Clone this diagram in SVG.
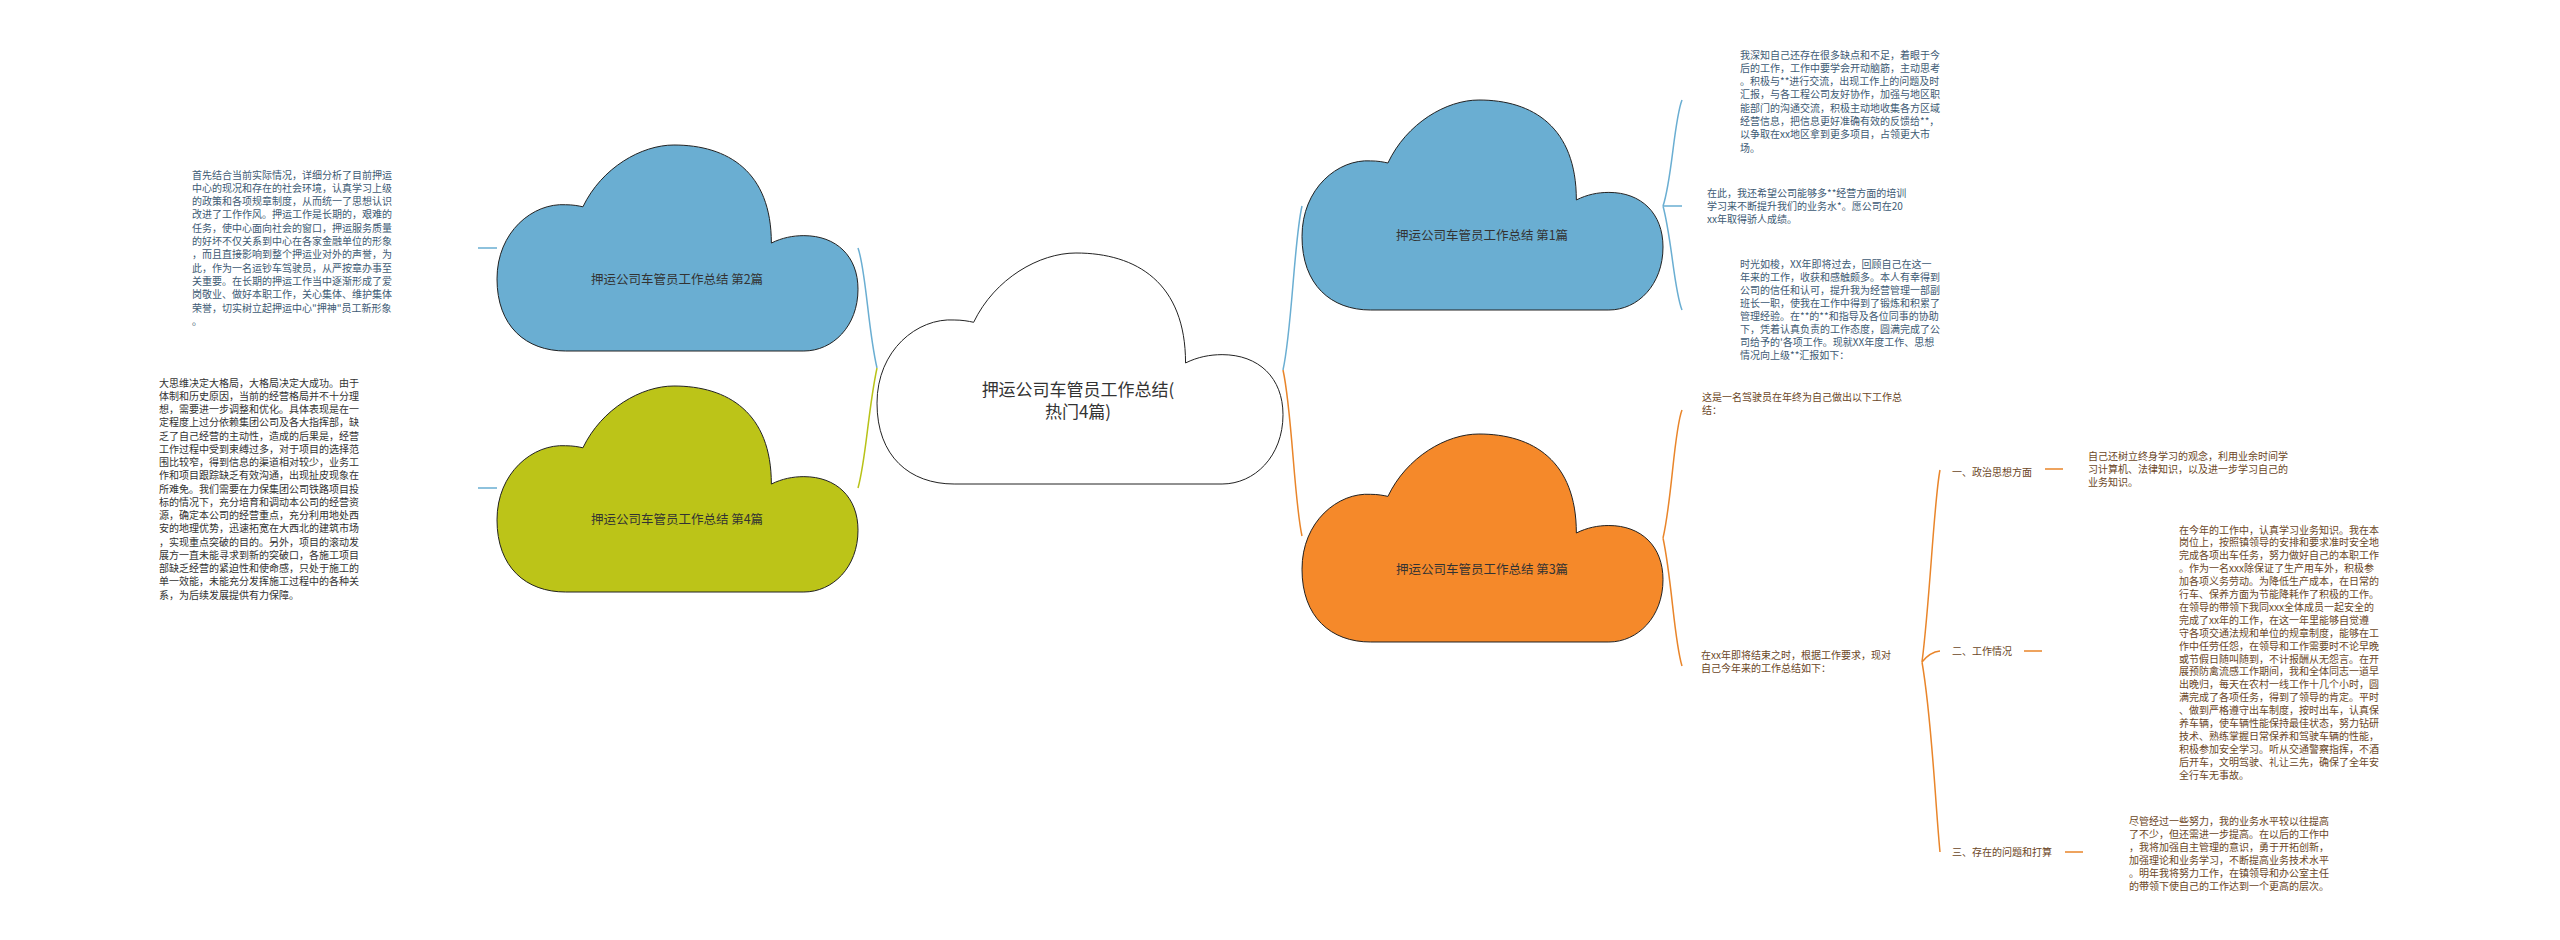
<svg xmlns="http://www.w3.org/2000/svg" width="2560" height="940" viewBox="0 0 2560 940">
<style>
.t{font-family:"Noto Sans CJK SC","Liberation Sans",sans-serif;font-size:10px}
.b{fill:#3d5a74}.g{fill:#333}.o{fill:#6b4626}
.lbl{font-family:"Noto Sans CJK SC","Liberation Sans",sans-serif;font-size:12.5px;fill:#333;text-anchor:middle}
.c{fill:none;stroke-width:1.5}
</style>
<defs>
<path id="cloud" vector-effect="non-scaling-stroke" stroke="#222" stroke-width="1" d="M238 300 C290 110 400 0 490 0 C640 0 760 130 760 476 C790 450 820 440 850 440 C940 440 1000 540 1000 700 C1000 880 930 1000 850 1000 L190 1000 C80 1000 0 880 0 650 C0 420 100 280 190 290 C210 290 225 295 238 300 Z"/>
</defs>
<rect width="2560" height="940" fill="#fff"/>
<g id="connectors">
<path class="c" stroke="#6aaed2" d="M877 368 C868 330 866 270 858 248"/>
<path class="c" stroke="#b8c218" d="M877 368 C868 410 866 460 858 488"/>
<path class="c" stroke="#6aaed2" d="M1283 370 C1292 330 1294 240 1302 206"/>
<path class="c" stroke="#e9852a" d="M1283 370 C1292 410 1294 500 1302 536"/>
<path class="c" stroke="#6aaed2" d="M478 248 H497 M478 488 H497"/>
<path class="c" stroke="#6aaed2" d="M1663 206 H1682 M1663 206 C1672 180 1674 120 1682 100 M1663 206 C1672 240 1674 290 1682 310"/>
<path class="c" stroke="#e9852a" d="M1663 538 C1672 500 1674 430 1682 410 M1663 538 C1672 580 1674 640 1682 666"/>
<path class="c" stroke="#e9852a" d="M1922 662 C1930 600 1934 500 1940 470 M1922 662 C1932 720 1935 800 1940 852 M1922 662 Q1930 652 1940 651"/>
<path class="c" stroke="#e9852a" d="M2045 469 H2063 M2024 651 H2042 M2065 852 H2083"/>
</g>
<g id="center">
<use href="#cloud" fill="#fff" transform="translate(877,253) scale(0.406,0.231)"/>
<text x="1078" y="396" class="lbl" style="font-size:17px">押运公司车管员工作总结(</text>
<text x="1078" y="418" class="lbl" style="font-size:17px">热门4篇)</text>
</g>
<g id="n2">
<use href="#cloud" fill="#6aaed2" transform="translate(497,145) scale(0.361,0.206)"/>
<text x="677" y="284" class="lbl">押运公司车管员工作总结 第2篇</text>
</g>
<g id="n4">
<use href="#cloud" fill="#bcc418" transform="translate(497,386) scale(0.361,0.206)"/>
<text x="677" y="524" class="lbl">押运公司车管员工作总结 第4篇</text>
</g>
<g id="n1">
<use href="#cloud" fill="#6aaed2" transform="translate(1302,100) scale(0.361,0.210)"/>
<text x="1482" y="240" class="lbl">押运公司车管员工作总结 第1篇</text>
</g>
<g id="n3">
<use href="#cloud" fill="#f5892a" transform="translate(1302,434) scale(0.361,0.208)"/>
<text x="1482" y="574" class="lbl">押运公司车管员工作总结 第3篇</text>
</g>
<g id="n2text" class="t b">
<text x="192" y="178.5">首先结合当前实际情况，详细分析了目前押运</text>
<text x="192" y="191.8">中心的现况和存在的社会环境，认真学习上级</text>
<text x="192" y="205.1">的政策和各项规章制度，从而统一了思想认识</text>
<text x="192" y="218.4">改进了工作作风。押运工作是长期的，艰难的</text>
<text x="192" y="231.7">任务，使中心面向社会的窗口，押运服务质量</text>
<text x="192" y="245">的好坏不仅关系到中心在各家金融单位的形象</text>
<text x="192" y="258.3">，而且直接影响到整个押运业对外的声誉，为</text>
<text x="192" y="271.6">此，作为一名运钞车驾驶员，从严按章办事至</text>
<text x="192" y="284.9">关重要。在长期的押运工作当中逐渐形成了爱</text>
<text x="192" y="298.2">岗敬业、做好本职工作，关心集体、维护集体</text>
<text x="192" y="311.5">荣誉，切实树立起押运中心"押神"员工新形象</text>
<text x="192" y="324.8">。</text>
</g>
<g id="n4text" class="t g">
<text x="159" y="386.5">大思维决定大格局，大格局决定大成功。由于</text>
<text x="159" y="399.75">体制和历史原因，当前的经营格局并不十分理</text>
<text x="159" y="413">想，需要进一步调整和优化。具体表现是在一</text>
<text x="159" y="426.25">定程度上过分依赖集团公司及各大指挥部，缺</text>
<text x="159" y="439.5">乏了自己经营的主动性，造成的后果是，经营</text>
<text x="159" y="452.75">工作过程中受到束缚过多，对于项目的选择范</text>
<text x="159" y="466">围比较窄，得到信息的渠道相对较少，业务工</text>
<text x="159" y="479.25">作和项目跟踪缺乏有效沟通，出现扯皮现象在</text>
<text x="159" y="492.5">所难免。我们需要在力保集团公司铁路项目投</text>
<text x="159" y="505.75">标的情况下，充分培育和调动本公司的经营资</text>
<text x="159" y="519">源，确定本公司的经营重点，充分利用地处西</text>
<text x="159" y="532.25">安的地理优势，迅速拓宽在大西北的建筑市场</text>
<text x="159" y="545.5">，实现重点突破的目的。另外，项目的滚动发</text>
<text x="159" y="558.75">展方一直未能寻求到新的突破口，各施工项目</text>
<text x="159" y="572">部缺乏经营的紧迫性和使命感，只处于施工的</text>
<text x="159" y="585.25">单一效能，未能充分发挥施工过程中的各种关</text>
<text x="159" y="598.5">系，为后续发展提供有力保障。</text>
</g>
<g id="n1a" class="t b">
<text x="1740" y="58.5">我深知自己还存在很多缺点和不足，着眼于今</text>
<text x="1740" y="71.8">后的工作，工作中要学会开动脑筋，主动思考</text>
<text x="1740" y="85.1">。积极与**进行交流，出现工作上的问题及时</text>
<text x="1740" y="98.4">汇报，与各工程公司友好协作，加强与地区职</text>
<text x="1740" y="111.7">能部门的沟通交流，积极主动地收集各方区域</text>
<text x="1740" y="125">经营信息，把信息更好准确有效的反馈给**，</text>
<text x="1740" y="138.3">以争取在xx地区拿到更多项目，占领更大市</text>
<text x="1740" y="151.6">场。</text>
</g>
<g id="n1b" class="t b">
<text x="1707" y="196.5">在此，我还希望公司能够多**经营方面的培训</text>
<text x="1707" y="209.5">学习来不断提升我们的业务水*。愿公司在20</text>
<text x="1707" y="222.5">xx年取得骄人成绩。</text>
</g>
<g id="n1c" class="t b">
<text x="1740" y="267.5">时光如梭，XX年即将过去，回顾自己在这一</text>
<text x="1740" y="280.5">年来的工作，收获和感触颇多。本人有幸得到</text>
<text x="1740" y="293.5">公司的信任和认可，提升我为经营管理一部副</text>
<text x="1740" y="306.5">班长一职，使我在工作中得到了锻炼和积累了</text>
<text x="1740" y="319.5">管理经验。在**的**和指导及各位同事的协助</text>
<text x="1740" y="332.5">下，凭着认真负责的工作态度，圆满完成了公</text>
<text x="1740" y="345.5">司给予的'各项工作。现就XX年度工作、思想</text>
<text x="1740" y="358.5">情况向上级**汇报如下：</text>
</g>
<g id="n3a" class="t o">
<text x="1702" y="400.5">这是一名驾驶员在年终为自己做出以下工作总</text>
<text x="1702" y="413.5">结：</text>
</g>
<g id="n3b" class="t o">
<text x="1701" y="658.5">在xx年即将结束之时，根据工作要求，现对</text>
<text x="1701" y="671.5">自己今年来的工作总结如下：</text>
</g>
<g id="s1" class="t o">
<text x="1952" y="475.5">一、政治思想方面</text>
</g>
<g id="s1t" class="t o">
<text x="2088" y="459.5">自己还树立终身学习的观念，利用业余时间学</text>
<text x="2088" y="472.5">习计算机、法律知识，以及进一步学习自己的</text>
<text x="2088" y="485.5">业务知识。</text>
</g>
<g id="s2" class="t o">
<text x="1952" y="654.5">二、工作情况</text>
</g>
<g id="s2t" class="t o">
<text x="2179" y="533.5">在今年的工作中，认真学习业务知识。我在本</text>
<text x="2179" y="546.4">岗位上，按照镇领导的安排和要求准时安全地</text>
<text x="2179" y="559.3">完成各项出车任务，努力做好自己的本职工作</text>
<text x="2179" y="572.2">。作为一名xxx除保证了生产用车外，积极参</text>
<text x="2179" y="585.1">加各项义务劳动。为降低生产成本，在日常的</text>
<text x="2179" y="598">行车、保养方面为节能降耗作了积极的工作。</text>
<text x="2179" y="610.9">在领导的带领下我同xxx全体成员一起安全的</text>
<text x="2179" y="623.8">完成了xx年的工作，在这一年里能够自觉遵</text>
<text x="2179" y="636.7">守各项交通法规和单位的规章制度，能够在工</text>
<text x="2179" y="649.6">作中任劳任怨，在领导和工作需要时不论早晚</text>
<text x="2179" y="662.5">或节假日随叫随到，不计报酬从无怨言。在开</text>
<text x="2179" y="675.4">展预防禽流感工作期间，我和全体同志一道早</text>
<text x="2179" y="688.3">出晚归，每天在农村一线工作十几个小时，圆</text>
<text x="2179" y="701.2">满完成了各项任务，得到了领导的肯定。平时</text>
<text x="2179" y="714.1">、做到严格遵守出车制度，按时出车，认真保</text>
<text x="2179" y="727">养车辆，使车辆性能保持最佳状态，努力钻研</text>
<text x="2179" y="739.9">技术、熟练掌握日常保养和驾驶车辆的性能，</text>
<text x="2179" y="752.8">积极参加安全学习。听从交通警察指挥，不酒</text>
<text x="2179" y="765.7">后开车，文明驾驶、礼让三先，确保了全年安</text>
<text x="2179" y="778.6">全行车无事故。</text>
</g>
<g id="s3" class="t o">
<text x="1952" y="856">三、存在的问题和打算</text>
</g>
<g id="s3t" class="t o">
<text x="2129" y="824.5">尽管经过一些努力，我的业务水平较以往提高</text>
<text x="2129" y="837.5">了不少，但还需进一步提高。在以后的工作中</text>
<text x="2129" y="850.5">，我将加强自主管理的意识，勇于开拓创新，</text>
<text x="2129" y="863.5">加强理论和业务学习，不断提高业务技术水平</text>
<text x="2129" y="876.5">。明年我将努力工作，在镇领导和办公室主任</text>
<text x="2129" y="889.5">的带领下使自己的工作达到一个更高的层次。</text>
</g>
</svg>
